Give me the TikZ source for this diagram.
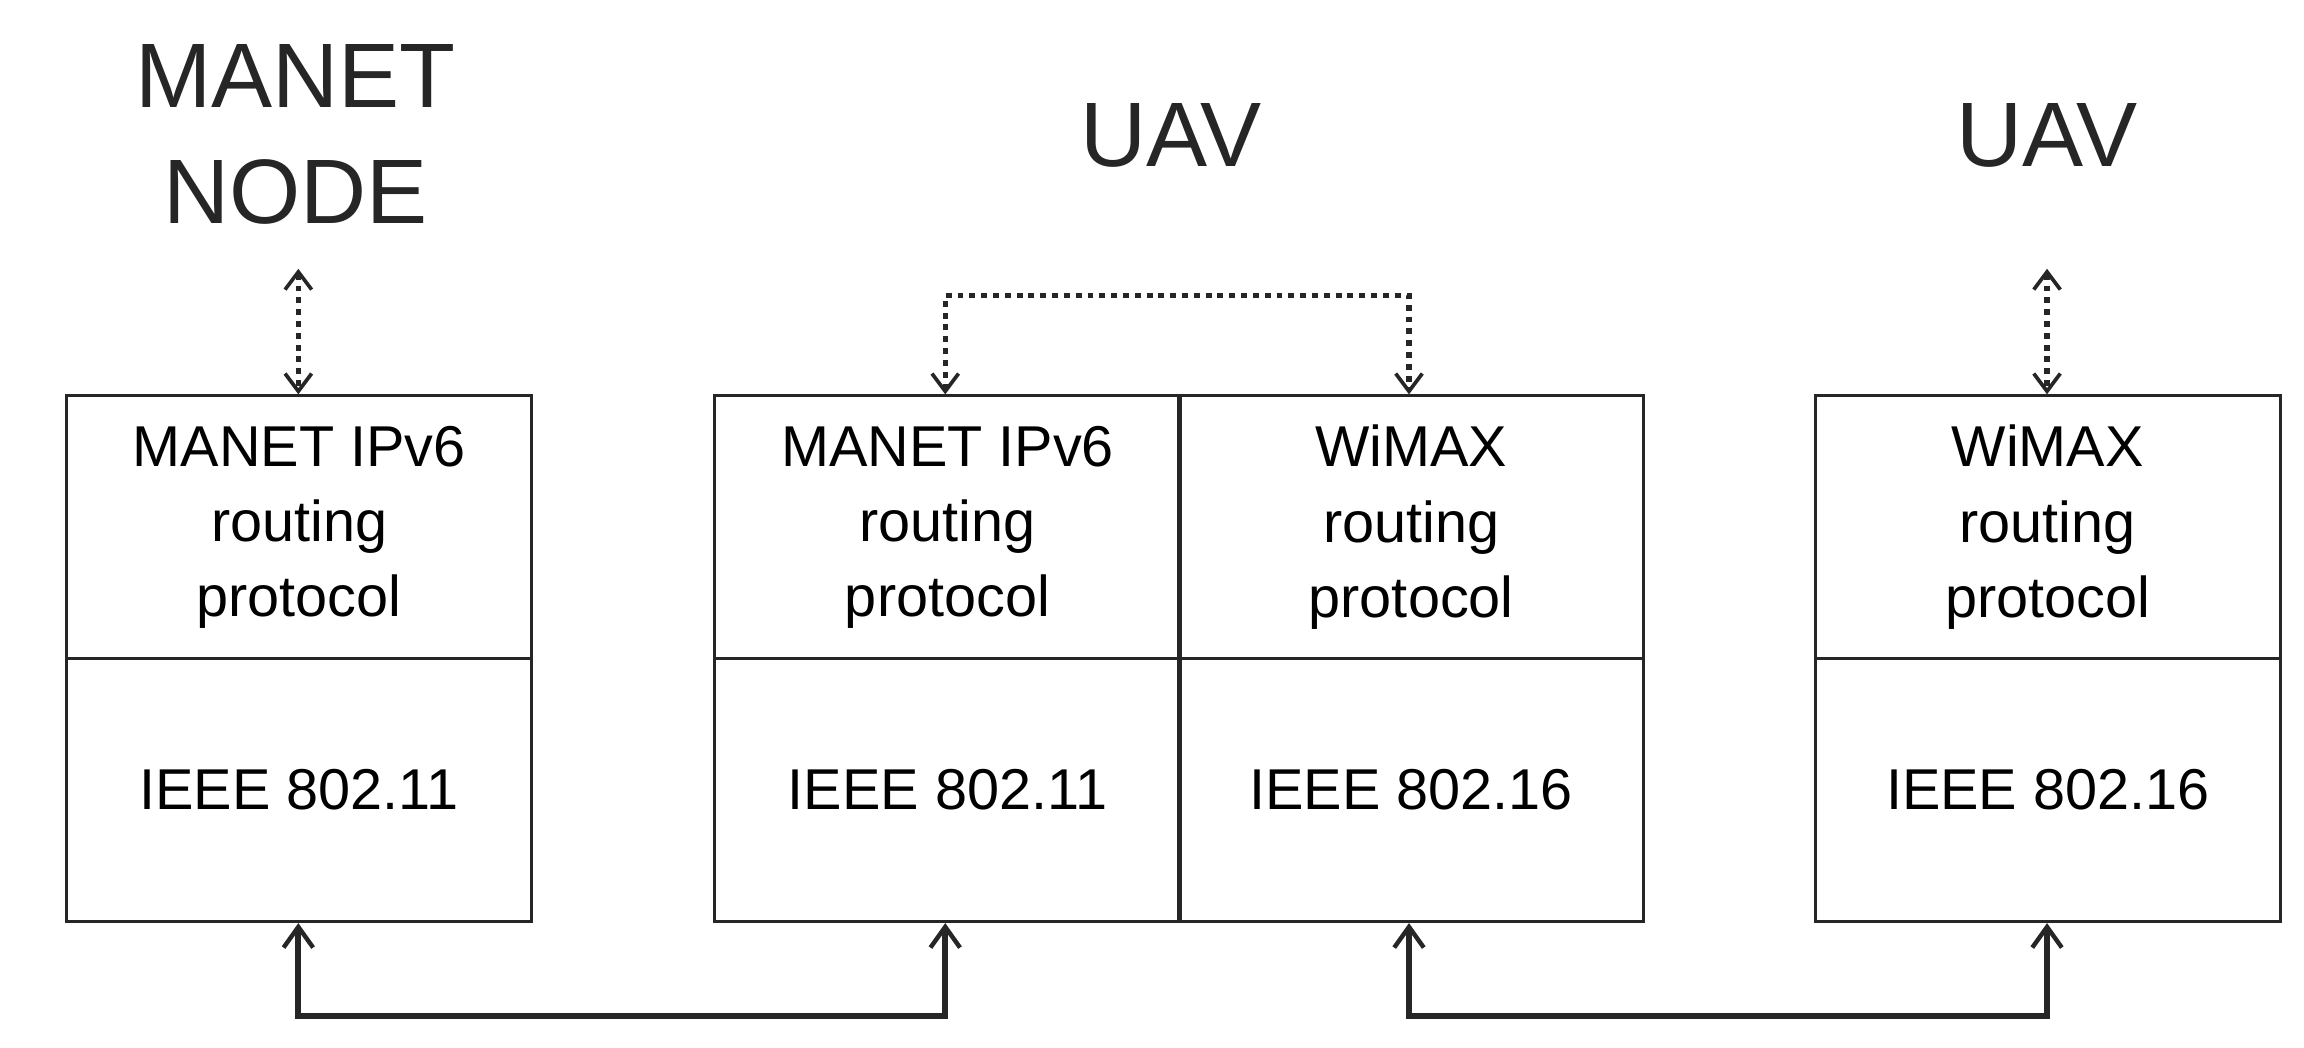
\documentclass[tikz,border=0pt]{standalone}
\usepackage{fontspec}
\setmainfont{Liberation Sans}
\usetikzlibrary{arrows.meta}
\begin{document}
\begin{tikzpicture}[x=1pt,y=-1pt,
  box/.style={draw=black!85,line width=2pt,minimum width=315pt,minimum height=178pt,align=center,font=\fontsize{39}{51}\selectfont,inner sep=0pt},
  ttl/.style={font=\fontsize{62}{78}\selectfont,align=center,text=black!85},
  dot/.style={line width=3.5pt,dash pattern=on 4pt off 4pt,draw=black!85,{Straight Barb[length=12pt,width=18pt,line width=2.5pt]}-{Straight Barb[length=12pt,width=18pt,line width=2.5pt]}},
  sol/.style={line width=4pt,draw=black!85,{Straight Barb[length=14pt,width=20pt,line width=3pt]}-{Straight Barb[length=14pt,width=20pt,line width=3pt]}}]
\useasboundingbox (0,0) rectangle (1560,709);
\node[box,anchor=north west] (a1) at (44,267) {MANET IPv6\\routing\\protocol};
\node[box,anchor=north west] (a2) at (44,445) {IEEE 802.11};
\node[box,anchor=north west] (b1) at (483,267) {MANET IPv6\\routing\\protocol};
\node[box,anchor=north west] (b2) at (483,445) {IEEE 802.11};
\node[box,anchor=north west] (c1) at (797,267) {WiMAX\\routing\\protocol};
\node[box,anchor=north west] (c2) at (797,445) {IEEE 802.16};
\node[box,anchor=north west] (d1) at (1228,267) {WiMAX\\routing\\protocol};
\node[box,anchor=north west] (d2) at (1228,445) {IEEE 802.16};
\node[ttl] (t1) at (200,91) {MANET\\NODE};
\node[ttl] (t2) at (793,92) {UAV};
\node[ttl] (t3) at (1386,92) {UAV};
\coordinate (p1) at (202,182);
\coordinate (p4) at (1386,182);
\draw[dot] (p1) -- (p1 |- a1.north);
\draw[dot] (p4) -- (p4 |- d1.north);
\coordinate (q2) at (640,200);
\coordinate (q3) at (954,200);
\draw[dot] (q2 |- b1.north) -- (q2) -- (q3) -- (q3 |- c1.north);
\coordinate (r1) at (202,688);
\coordinate (r2) at (640,688);
\coordinate (r3) at (954,688);
\coordinate (r4) at (1386,688);
\draw[sol] (r1 |- a2.south) -- (r1) -- (r2) -- (r2 |- b2.south);
\draw[sol] (r3 |- c2.south) -- (r3) -- (r4) -- (r4 |- d2.south);
\end{tikzpicture}
\end{document}
